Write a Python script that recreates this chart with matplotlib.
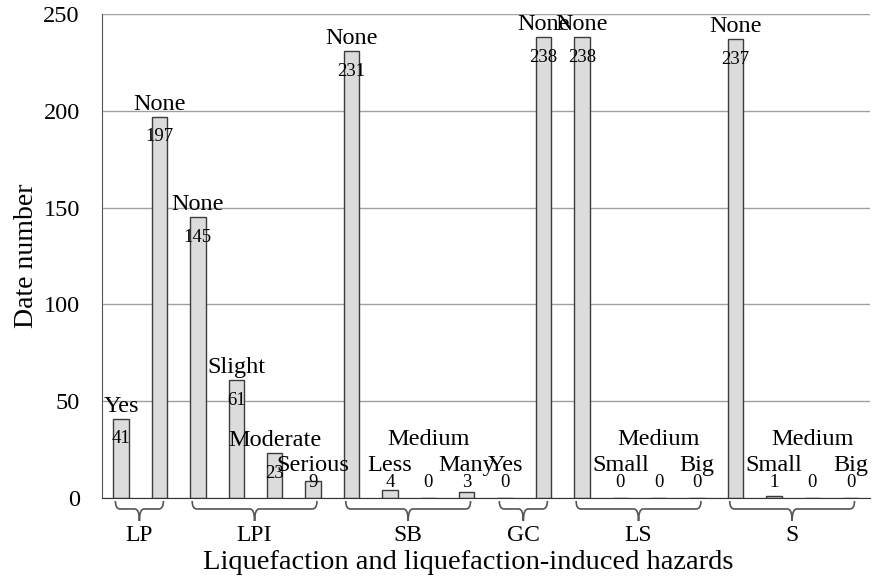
import numpy as np
import matplotlib
matplotlib.use('Agg')
import matplotlib.pyplot as plt
from matplotlib.path import Path
from matplotlib.patches import PathPatch
import matplotlib.transforms as mtransforms

# -- data
groups = ['LP', 'LPI', 'SB', 'GC', 'LS', 'S']
group_sizes = [2, 4, 4, 2, 4, 4]
categories = ['Yes', 'None',
              'None', 'Slight', 'Moderate', 'Serious',
              'None', 'Less', 'Medium', 'Many',
              'Yes', 'None',
              'None', 'Small', 'Medium', 'Big',
              'None', 'Small', 'Medium', 'Big']
counts = [41, 197,
          145, 61, 23, 9,
          231, 4, 0, 3,
          0, 238,
          238, 0, 0, 0,
          237, 1, 0, 0]
yticks = [0, 50, 100, 150, 200, 250]

plt.rcParams['font.family'] = ['Liberation Serif', 'DejaVu Serif']

fig = plt.figure(figsize=(8.76, 5.81), dpi=100)
ax = fig.add_axes([0.1164, 0.1429, 0.8766, 0.8330])

x = np.arange(len(counts))
ax.bar(x, counts, width=0.4, color='#dcdcdc', edgecolor='#3c3c3c',
       linewidth=1.0, zorder=3)

ax.set_xlim(-0.5, len(counts) - 0.5)
ax.set_ylim(0, 250)
ax.set_yticks(yticks)
ax.set_xticks([])
ax.yaxis.grid(True, color='#a0a0a0', linewidth=1.0, zorder=0)
ax.tick_params(axis='y', length=0, pad=16, labelsize=17.5)
for s in ['top', 'right']:
    ax.spines[s].set_visible(False)
ax.spines['left'].set_color('#555555')
ax.spines['bottom'].set_color('#333333')
ax.spines['bottom'].set_zorder(4)

# -- labels on bars
for xi, (name, v) in enumerate(zip(categories, counts)):
    ny = max(v + 6.5, 17)
    if name == 'Medium' and v < 5:
        ny = 30
    ax.text(xi, ny, name, ha='center', va='center', fontsize=17.5, zorder=5)
    ax.text(xi, max(v - 10.5, 7.8), str(v), ha='center', va='center',
            fontsize=13.5, zorder=5)

# -- curly braces under each group
trans = mtransforms.blended_transform_factory(ax.transData, ax.transAxes)
px = 1.0 / (ax.get_position().height * fig.get_figheight() * fig.dpi)
start = 0
for g, n in zip(groups, group_sizes):
    x0 = start - 0.15
    x1 = start + n - 1 + 0.1
    xm = (x0 + x1) / 2
    top, mid, tip = -3 * px, -11 * px, -23 * px
    c = 0.12
    verts = [(x0, top), (x0, mid), (x0 + c, mid),
             (xm - c, mid), (xm, mid), (xm, tip),
             (xm, tip), (xm, mid), (xm + c, mid),
             (x1 - c, mid), (x1, mid), (x1, top)]
    codes = [Path.MOVETO, Path.CURVE3, Path.CURVE3,
             Path.LINETO, Path.CURVE3, Path.CURVE3,
             Path.MOVETO, Path.CURVE3, Path.CURVE3,
             Path.LINETO, Path.CURVE3, Path.CURVE3]
    patch = PathPatch(Path(verts, codes), transform=trans, fill=False,
                      edgecolor='#555555', linewidth=1.2, clip_on=False)
    ax.add_patch(patch)
    ax.text(xm, -38 * px, g, transform=trans, ha='center', va='center',
            fontsize=17)
    start += n

ax.set_ylabel('Date number', fontsize=20, labelpad=3)
fig.text(0.534, 0.031, 'Liquefaction and liquefaction-induced hazards',
         ha='center', va='center', fontsize=20.5)

fig.savefig('out.png', dpi=100)
